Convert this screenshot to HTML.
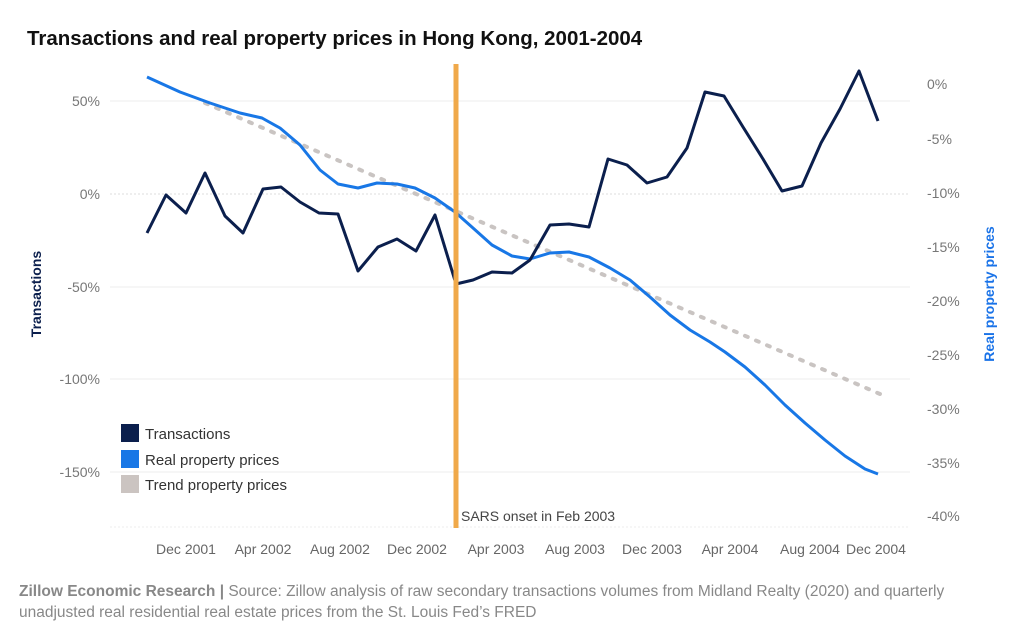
<!DOCTYPE html>
<html><head><meta charset="utf-8"><style>
html,body{margin:0;padding:0;background:#fff;}
svg{display:block;font-family:"Liberation Sans",sans-serif;}
</style></head><body>
<svg width="1024" height="640" viewBox="0 0 1024 640">
<text x="27" y="45" font-size="20.5" font-weight="bold" fill="#111">Transactions and real property prices in Hong Kong, 2001-2004</text>
<g stroke="#eeeeee" stroke-width="1">
<line x1="110" y1="101" x2="910" y2="101"/>
<line x1="110" y1="287" x2="910" y2="287"/>
<line x1="110" y1="379" x2="910" y2="379"/>
<line x1="110" y1="472" x2="910" y2="472"/>
</g>
<line x1="110" y1="194" x2="910" y2="194" stroke="#ddd" stroke-dasharray="2,2"/>
<line x1="110" y1="527" x2="910" y2="527" stroke="#eee" stroke-dasharray="2,2"/>
<g font-size="14" fill="#777" text-anchor="end">
<text x="100" y="106">50%</text><text x="100" y="199">0%</text><text x="100" y="292">-50%</text><text x="100" y="384">-100%</text><text x="100" y="477">-150%</text>
</g>
<g font-size="14" fill="#777" text-anchor="start">
<text x="927" y="89">0%</text><text x="927" y="144">-5%</text><text x="927" y="198">-10%</text><text x="927" y="252">-15%</text><text x="927" y="306">-20%</text><text x="927" y="360">-25%</text><text x="927" y="414">-30%</text><text x="927" y="468">-35%</text><text x="927" y="521">-40%</text>
</g>
<g font-size="14" fill="#666" text-anchor="middle">
<text x="186" y="554">Dec 2001</text><text x="263" y="554">Apr 2002</text><text x="340" y="554">Aug 2002</text><text x="417" y="554">Dec 2002</text><text x="496" y="554">Apr 2003</text><text x="575" y="554">Aug 2003</text><text x="652" y="554">Dec 2003</text><text x="730" y="554">Apr 2004</text><text x="810" y="554">Aug 2004</text><text x="876" y="554">Dec 2004</text>
</g>
<text transform="translate(41,294) rotate(-90)" font-size="14" font-weight="bold" fill="#0b1f4d" text-anchor="middle">Transactions</text>
<text transform="translate(994,294) rotate(-90)" font-size="14" font-weight="bold" fill="#1a73e8" text-anchor="middle">Real property prices</text>
<line x1="205" y1="103" x2="880" y2="394" stroke="#c9c4c2" stroke-width="4" stroke-dasharray="3,9" stroke-linecap="round"/>
<polyline fill="none" stroke="#1877e6" stroke-width="3" stroke-linejoin="round" points="147,77 180,92 210,103 240,113 262,118 280,128 300,145 320,170 338,184 358,188 377,183 397,184 415,188 435,198 455,212 473,228 492,245 512,256 530,259 550,253 569,252 589,257 610,268 630,280 650,297 670,315 690,330 710,342 725,352 745,367 765,385 785,405 805,423 825,440 845,456 865,469 878,474"/>
<polyline fill="none" stroke="#0b1f4d" stroke-width="3" stroke-linejoin="round" points="147,233 166,195 186,213 205,173 225,216 243,233 263,189 281,187 300,202 319,213 338,214 358,271 378,247 397,239 416,251 435,215 456,284 473,280 492,272 512,273 530,260 550,225 569,224 589,227 608,159 627,165 647,183 667,177 687,148 705,92 724,96 743,127 763,159 782,191 802,186 821,143 840,109 859,71 878,121"/>
<line x1="456" y1="64" x2="456" y2="528" stroke="#f0a94a" stroke-width="5"/>
<text x="461" y="521" font-size="14" fill="#444">SARS onset in Feb 2003</text>
<rect x="121" y="424" width="18" height="18" fill="#0b1f4d"/>
<rect x="121" y="450" width="18" height="18" fill="#1877e6"/>
<rect x="121" y="475" width="18" height="18" fill="#cbc4c1"/>
<g font-size="15" fill="#333">
<text x="145" y="439">Transactions</text><text x="145" y="465">Real property prices</text><text x="145" y="490">Trend property prices</text>
</g>
<text x="19" y="596" font-size="15.5" fill="#888"><tspan font-weight="bold">Zillow Economic Research | </tspan>Source: Zillow analysis of raw secondary transactions volumes from Midland Realty (2020) and quarterly</text>
<text x="19" y="617" font-size="15.5" fill="#888">unadjusted real residential real estate prices from the St. Louis Fed’s FRED</text>
</svg>
</body></html>
